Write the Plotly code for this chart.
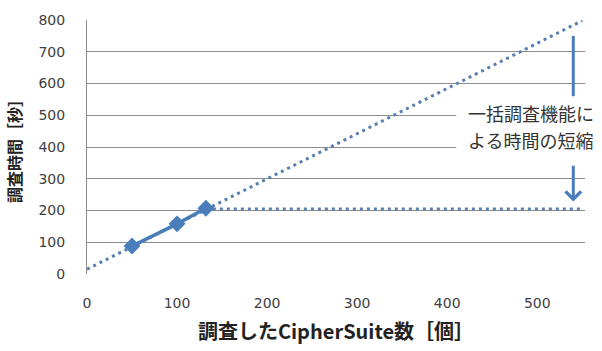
import plotly.graph_objects as go

# Data
counts = [50, 100, 132]
times = [88, 158, 207]
trend_x = [0, 550]
trend_y = [15, 798]
flat_x = [132, 550]
flat_y = [205, 205]
arrow_x = 540
arrow_top = [750, 560]
arrow_bottom = [346, 228]
note_lines = ["一括調査機能に", "よる時間の短縮"]
note_x = 422
note_y = [506, 421]
x_ticks = [0, 100, 200, 300, 400, 500]
y_ticks = [0, 100, 200, 300, 400, 500, 600, 700, 800]

blue = "#4A7EBB"
dotblue = "#5A7FAE"
jp = "Noto Sans CJK JP"

fig = go.Figure()
fig.add_trace(go.Scatter(x=trend_x, y=trend_y, mode="lines",
                         line=dict(color=dotblue, width=3, dash="3px,4px"),
                         hoverinfo="skip", showlegend=False))
fig.add_trace(go.Scatter(x=flat_x, y=flat_y, mode="lines",
                         line=dict(color=dotblue, width=3, dash="3px,4px"),
                         hoverinfo="skip", showlegend=False))
fig.add_trace(go.Scatter(x=counts, y=times, mode="lines+markers",
                         line=dict(color=blue, width=3.5),
                         marker=dict(symbol="diamond", size=13, color=blue),
                         showlegend=False))

# top arrow segment (no head)
fig.add_shape(type="line", xref="x", yref="y",
              x0=arrow_x, x1=arrow_x, y0=arrow_top[0], y1=arrow_top[1],
              line=dict(color=blue, width=3))
# bottom arrow with head
fig.add_annotation(x=arrow_x, y=arrow_bottom[1], ax=arrow_x, ay=arrow_bottom[0],
                   xref="x", yref="y", axref="x", ayref="y",
                   text="", showarrow=True, arrowhead=4, arrowsize=1,
                   arrowwidth=3, arrowcolor=blue)
# white block behind the note (hides gridlines)
fig.add_shape(type="rect", xref="x", yref="y", layer="above",
              x0=note_x - 12, x1=553, y0=note_y[1] - 38, y1=note_y[0] + 38,
              fillcolor="white", line=dict(width=0))
for txt, yv in zip(note_lines, note_y):
    fig.add_annotation(x=note_x, y=yv, xref="x", yref="y",
                       text=txt, showarrow=False, xanchor="left",
                       yanchor="middle", align="left", borderpad=0,
                       font=dict(family=jp, size=18, color="#333333"))

fig.update_layout(
    width=602, height=351,
    margin=dict(l=87, r=17, t=15, b=76),
    paper_bgcolor="white", plot_bgcolor="white",
    xaxis=dict(range=[0, 553], tickvals=x_ticks, showgrid=False,
               zeroline=False, showline=False, ticks="",
               ticklabelstandoff=19,
               tickfont=dict(family="DejaVu Sans", size=14, color="#404040"),
               title=dict(text="調査したCipherSuite数［個］", standoff=14,
                          font=dict(family=jp, size=20, color="#222222",
                                    weight="bold"))),
    yaxis=dict(range=[0, 800], tickvals=y_ticks, showgrid=True,
               gridcolor="#8C8C8C", gridwidth=1, zeroline=False,
               showline=True, linecolor="#8C8C8C", linewidth=1, ticks="",
               ticklabelstandoff=18,
               tickfont=dict(family="DejaVu Sans", size=14, color="#404040"),
               title=dict(text="調査時間［秒］", standoff=12,
                          font=dict(family=jp, size=16, color="#222222",
                                    weight="bold"))),
)

fig.write_html("out.html")
